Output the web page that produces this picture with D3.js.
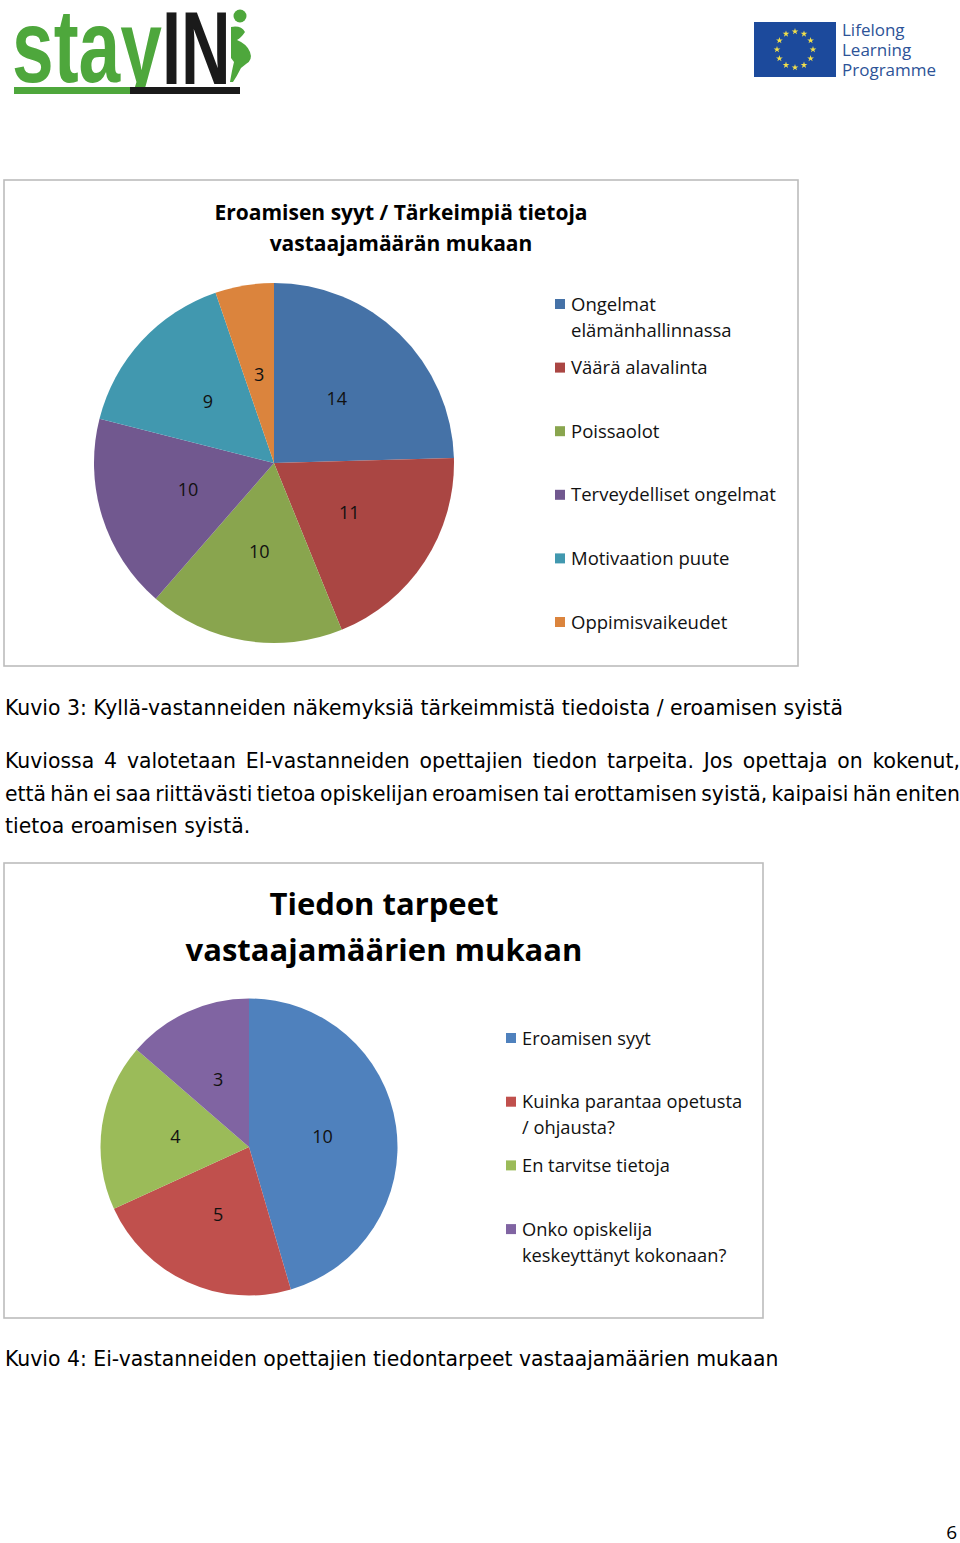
<!DOCTYPE html>
<html>
<head>
<meta charset="utf-8">
<script src="https://cdn.jsdelivr.net/npm/d3@7"></script>
<style>
  html, body { margin: 0; padding: 0; background: #fff; }
  svg { display: block; }
</style>
</head>
<body>
<svg id="page"></svg>
<script>
// ---- data ----
const chart1Title = ['Eroamisen syyt / Tärkeimpiä tietoja', 'vastaajamäärän mukaan'];
const chart1Categories = [
    ['Ongelmat', 'elämänhallinnassa'],
    ['Väärä alavalinta'],
    ['Poissaolot'],
    ['Terveydelliset ongelmat'],
    ['Motivaation puute'],
    ['Oppimisvaikeudet']
];
const chart1Values = [14, 11, 10, 10, 9, 3];
const chart1Colors = ['#4572a7', '#aa4643', '#89a54e', '#71588f', '#4198af', '#db843d'];

const chart2Title = ['Tiedon tarpeet', 'vastaajamäärien mukaan'];
const chart2Categories = [
    ['Eroamisen syyt'],
    ['Kuinka parantaa opetusta', '/ ohjausta?'],
    ['En tarvitse tietoja'],
    ['Onko opiskelija', 'keskeyttänyt kokonaan?']
];
const chart2Values = [10, 5, 4, 3];
const chart2Colors = ['#4f81bd', '#c0504d', '#9bbb59', '#8064a2'];

const caption3 = 'Kuvio 3: Kyllä-vastanneiden näkemyksiä tärkeimmistä tiedoista / eroamisen syistä';
const paragraphLines = [
    'Kuviossa 4 valotetaan EI-vastanneiden opettajien tiedon tarpeita. Jos opettaja on kokenut,',
    'että hän ei saa riittävästi tietoa opiskelijan eroamisen tai erottamisen syistä, kaipaisi hän eniten',
    'tietoa eroamisen syistä.'
];
const caption4 = 'Kuvio 4: Ei-vastanneiden opettajien tiedontarpeet vastaajamäärien mukaan';
const pageNumber = '6';
const euLogoLines = ['Lifelong', 'Learning', 'Programme'];

// ---- layout ----
const W = 960, H = 1543;
const chartFont = '"Open Sans", "Noto Sans", sans-serif';
const bodyFont = '"DejaVu Sans", Verdana, sans-serif';
const bodySize = 20.4;

const svg = d3.select('#page').attr('width', W).attr('height', H);
svg.append('rect').attr('width', W).attr('height', H).attr('fill', '#fff');

// ---- header logos ----
function drawStayIn() {
    const g = svg.append('g').attr('class', 'logo-stayin');
    const green = '#4ea73c';
    const logoFont = '"Liberation Sans Narrow", "Liberation Sans", sans-serif';
    g.append('text')
        .attr('transform', 'translate(12,82) scale(0.72,1)')
        .attr('font-family', logoFont)
        .attr('font-weight', 'bold')
        .attr('font-size', 104)
        .attr('fill', green)
        .text('stay');
    g.append('text')
        .attr('transform', 'translate(162,84) scale(0.66,1)')
        .attr('font-family', logoFont)
        .attr('font-weight', 'bold')
        .attr('font-size', 104)
        .attr('fill', '#1a1a1a')
        .text('IN');
    // hide the descender below the bar
    g.append('rect').attr('x', 0).attr('y', 94).attr('width', 300).attr('height', 20).attr('fill', '#fff');
    g.append('rect').attr('x', 14).attr('y', 87).attr('width', 120).attr('height', 7).attr('fill', green);
    g.append('rect').attr('x', 130).attr('y', 87).attr('width', 110).attr('height', 7).attr('fill', '#1a1a1a');
    // little figure
    g.append('circle').attr('cx', 240).attr('cy', 16).attr('r', 6.5).attr('fill', green);
    g.append('path')
        .attr('d', 'M231,27 Q241,25 245,32 Q241,38 237,40 Q247,44 250,52 Q253,60 246,64 L241,68 Q237,76 233,82 L230,82 Q232,70 234,62 L231,58 Z')
        .attr('fill', green);
}

function drawEuLogo() {
    const g = svg.append('g').attr('class', 'logo-eu');
    g.append('rect').attr('x', 754).attr('y', 22).attr('width', 82).attr('height', 55).attr('fill', '#1c4a9c');
    const star = d3.symbol().type(d3.symbolStar).size(14);
    d3.range(12).forEach(i => {
        const a = i / 12 * 2 * Math.PI;
        g.append('path')
            .attr('d', star())
            .attr('transform', `translate(${795 + 18 * Math.sin(a)},${49.5 - 18 * Math.cos(a)})`)
            .attr('fill', '#f3e04a');
    });
    g.selectAll('text.eu')
        .data(euLogoLines)
        .join('text')
        .attr('class', 'eu')
        .attr('x', 842)
        .attr('y', (d, i) => 36 + i * 20)
        .attr('font-family', chartFont)
        .attr('font-size', 17)
        .attr('fill', '#2d5397')
        .text(d => d);
}

// ---- pie charts ----
function drawPieChart(opt) {
    const g = svg.append('g');
    g.append('rect')
        .attr('x', opt.box[0]).attr('y', opt.box[1])
        .attr('width', opt.box[2]).attr('height', opt.box[3])
        .attr('fill', '#fff')
        .attr('stroke', '#bcbcbc')
        .attr('stroke-width', 1.6);

    g.selectAll('text.title')
        .data(opt.title)
        .join('text')
        .attr('class', 'title')
        .attr('x', opt.titleX)
        .attr('y', (d, i) => opt.titleY + i * opt.titleStep)
        .attr('text-anchor', 'middle')
        .attr('font-family', chartFont)
        .attr('font-weight', 'bold')
        .attr('font-size', opt.titleSize)
        .attr('fill', '#000')
        .text(d => d);

    const pie = d3.pie().sort(null).value(d => d);
    const arc = d3.arc().innerRadius(0).outerRadius(opt.r);
    const arcs = pie(opt.values);

    const pg = g.append('g').attr('transform', `translate(${opt.cx},${opt.cy})`);
    pg.selectAll('path')
        .data(arcs)
        .join('path')
        .attr('d', arc)
        .attr('fill', (d, i) => opt.colors[i]);

    pg.selectAll('text')
        .data(arcs)
        .join('text')
        .attr('transform', d => `translate(${arc.centroid(d)})`)
        .attr('text-anchor', 'middle')
        .attr('dy', '0.35em')
        .attr('font-family', chartFont)
        .attr('font-size', 18)
        .attr('fill', '#111')
        .text(d => d.data);

    const lg = g.append('g');
    const items = lg.selectAll('g')
        .data(opt.categories)
        .join('g')
        .attr('transform', (d, i) => `translate(${opt.legendX},${opt.legendY + i * opt.legendStep})`);
    items.append('rect')
        .attr('x', 0).attr('y', -5)
        .attr('width', 10).attr('height', 10)
        .attr('fill', (d, i) => opt.colors[i]);
    items.each(function (lines) {
        d3.select(this).selectAll('text')
            .data(lines)
            .join('text')
            .attr('x', 16)
            .attr('y', (d, j) => 6.5 + j * 26)
            .attr('font-family', chartFont)
            .attr('font-size', opt.legendSize)
            .attr('fill', '#111')
            .text(d => d);
    });
}

// ---- body text, word by word so justified lines can be spread ----
function drawLine(text, x, y, width, justify) {
    const t = svg.append('text')
        .attr('transform', `translate(${x},${y})`)
        .attr('font-family', bodyFont)
        .attr('font-size', bodySize)
        .attr('fill', '#000');
    const words = text.split(' ');
    const spans = words.map(w => t.append('tspan').text(w));
    const widths = spans.map(s => s.node().getComputedTextLength());
    const probe = svg.append('text').attr('font-family', bodyFont).attr('font-size', bodySize).text('a a');
    const probe2 = svg.append('text').attr('font-family', bodyFont).attr('font-size', bodySize).text('aa');
    const spaceW = probe.node().getComputedTextLength() - probe2.node().getComputedTextLength();
    probe.remove(); probe2.remove();
    const total = d3.sum(widths);
    const gap = justify ? (width - total) / (words.length - 1) : spaceW;
    let cx = 0;
    spans.forEach((s, i) => {
        s.attr('x', cx);
        cx += widths[i] + gap;
    });
}

drawStayIn();
drawEuLogo();

drawPieChart({
    box: [4, 180, 794, 486],
    title: chart1Title, titleX: 401, titleY: 220, titleStep: 31, titleSize: 21,
    values: chart1Values, colors: chart1Colors, categories: chart1Categories,
    cx: 274, cy: 463, r: 180,
    legendX: 555, legendY: 304, legendStep: 63.6, legendSize: 18.5
});

drawLine(caption3, 5, 715, 0, false);
paragraphLines.forEach((line, i) => drawLine(line, 5, 768 + i * 32.5, 955, i < 2));

drawPieChart({
    box: [4, 863, 759, 455],
    title: chart2Title, titleX: 384, titleY: 915, titleStep: 46, titleSize: 31,
    values: chart2Values, colors: chart2Colors, categories: chart2Categories,
    cx: 249, cy: 1147, r: 148.5,
    legendX: 506, legendY: 1038, legendStep: 63.7, legendSize: 18.3
});

drawLine(caption4, 5, 1366, 0, false);

svg.append('text')
    .attr('x', 957).attr('y', 1539)
    .attr('text-anchor', 'end')
    .attr('font-family', chartFont)
    .attr('font-size', 19)
    .attr('fill', '#000')
    .text(pageNumber);
</script>
</body>
</html>
